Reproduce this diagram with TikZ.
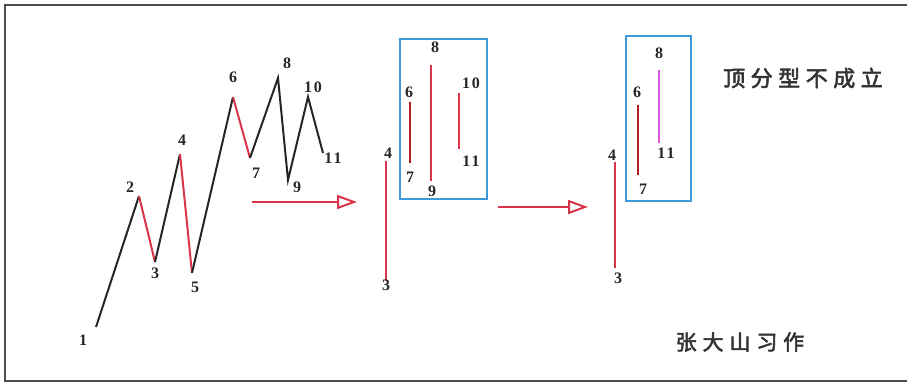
\documentclass[tikz,border=0pt]{standalone}
\usepackage{fontspec}
\setmainfont{Liberation Serif}
\newfontfamily\cjk{Noto Sans CJK SC}[FakeBold=2.5]
\newfontfamily\numfont{Liberation Serif}[LetterSpace=12]
\usepackage{xcolor}
\usepackage{tikz}
\usetikzlibrary{arrows.meta}
\definecolor{wavered}{HTML}{D8344A}
\definecolor{darkred}{HTML}{B01E24}
\definecolor{pinkline}{HTML}{D958D9}
\definecolor{boxblue}{HTML}{3C9AD8}
\tikzset{
    num/.style={font=\numfont\fontsize{16}{16}\selectfont\bfseries, text=black!85, inner sep=0pt},
    upleg/.style={draw=black!85, line width=2pt},
    downleg/.style={draw=wavered, line width=2pt},
    bar/.style={draw=wavered, line width=1.8pt},
    darkbar/.style={draw=darkred, line width=1.8pt},
    pinkbar/.style={draw=pinkline, line width=2pt},
    group/.style={draw=boxblue, line width=1.5pt},
    arrow/.style={draw=wavered, line width=1.5pt, -{Triangle[open, length=20pt, width=14pt, line width=2pt]}},
    note/.style={text=black!80, inner sep=0pt},
}
\begin{document}
\begin{tikzpicture}[x=1pt, y=-1pt]
    \useasboundingbox (0,0) rectangle (907,383);
    \draw[black!70, line width=1.6pt] (907,5) -- (5,5) -- (5,381) -- (907,381);

    % wave
    \coordinate (p1) at (96,327);
    \coordinate (p2) at (139,196);
    \coordinate (p3) at (155,262);
    \coordinate (p4) at (180,154);
    \coordinate (p5) at (192,273);
    \coordinate (p6) at (233,97);
    \coordinate (p7) at (250,158);
    \coordinate (p8) at (278,78);
    \coordinate (p9) at (288,180);
    \coordinate (p10) at (308,97);
    \coordinate (p11) at (323,153);
    \draw[upleg] (p1) -- (p2);
    \draw[downleg] (p2) -- (p3);
    \draw[upleg] (p3) -- (p4);
    \draw[downleg] (p4) -- (p5);
    \draw[upleg] (p5) -- (p6);
    \draw[downleg] (p6) -- (p7);
    \draw[upleg] (p7) -- (p8) -- (p9) -- (p10) -- (p11);
    \node[num] (l1) at (83,340) {1};
    \node[num] (l2) at (130,187) {2};
    \node[num] (l3) at (155,273) {3};
    \node[num] (l4) at (182,140) {4};
    \node[num] (l5) at (195,287) {5};
    \node[num] (l6) at (233,77) {6};
    \node[num] (l7) at (256,173) {7};
    \node[num] (l8) at (287,63) {8};
    \node[num] (l9) at (297,187) {9};
    \node[num] (l10) at (313,87) {10};
    \node[num] (l11) at (333,158) {11};

    % first step
    \coordinate (a1s) at (252,202);
    \coordinate (a1e) at (357,202);
    \draw[arrow] (a1s) -- (a1e);
    \coordinate (b4) at (386,161);
    \coordinate (b3) at (386,281);
    \draw[bar] (b4) -- (b3);
    \node[num] (m4) at (388,153) {4};
    \node[num] (m3) at (386,285) {3};
    \draw[group] (400,39) rectangle (487,199);
    \coordinate (b6) at (410,102);
    \coordinate (b7) at (410,163);
    \draw[darkbar] (b6) -- (b7);
    \coordinate (b8) at (431,65);
    \coordinate (b9) at (431,181);
    \draw[bar] (b8) -- (b9);
    \coordinate (b10) at (459,93);
    \coordinate (b11) at (459,149);
    \draw[bar] (b10) -- (b11);
    \node[num] (m6) at (409,92) {6};
    \node[num] (m7) at (410,177) {7};
    \node[num] (m8) at (435,47) {8};
    \node[num] (m9) at (432,191) {9};
    \node[num] (m10) at (471,83) {10};
    \node[num] (m11) at (471,161) {11};

    % second step
    \coordinate (a2s) at (498,207);
    \coordinate (a2e) at (588,207);
    \draw[arrow] (a2s) -- (a2e);
    \coordinate (c4) at (615,162);
    \coordinate (c3) at (615,268);
    \draw[bar] (c4) -- (c3);
    \node[num] (n4) at (612,155) {4};
    \node[num] (n3) at (618,278) {3};
    \draw[group] (626,36) rectangle (691,201);
    \coordinate (c6) at (638,105);
    \coordinate (c7) at (638,175);
    \draw[darkbar] (c6) -- (c7);
    \coordinate (c8) at (659,70);
    \coordinate (c11) at (659,143);
    \draw[pinkbar] (c8) -- (c11);
    \node[num] (n6) at (637,92) {6};
    \node[num] (n7) at (643,189) {7};
    \node[num] (n8) at (659,53) {8};
    \node[num] (n11) at (666,153) {11};

    \node[note, font=\cjk\addfontfeature{LetterSpace=25}\fontsize{22}{22}\selectfont] (title) at (803,78) {顶分型不成立};
    \node[note, font=\cjk\addfontfeature{LetterSpace=28}\fontsize{21}{21}\selectfont] (sign) at (740,342) {张大山习作};
\end{tikzpicture}
\end{document}
